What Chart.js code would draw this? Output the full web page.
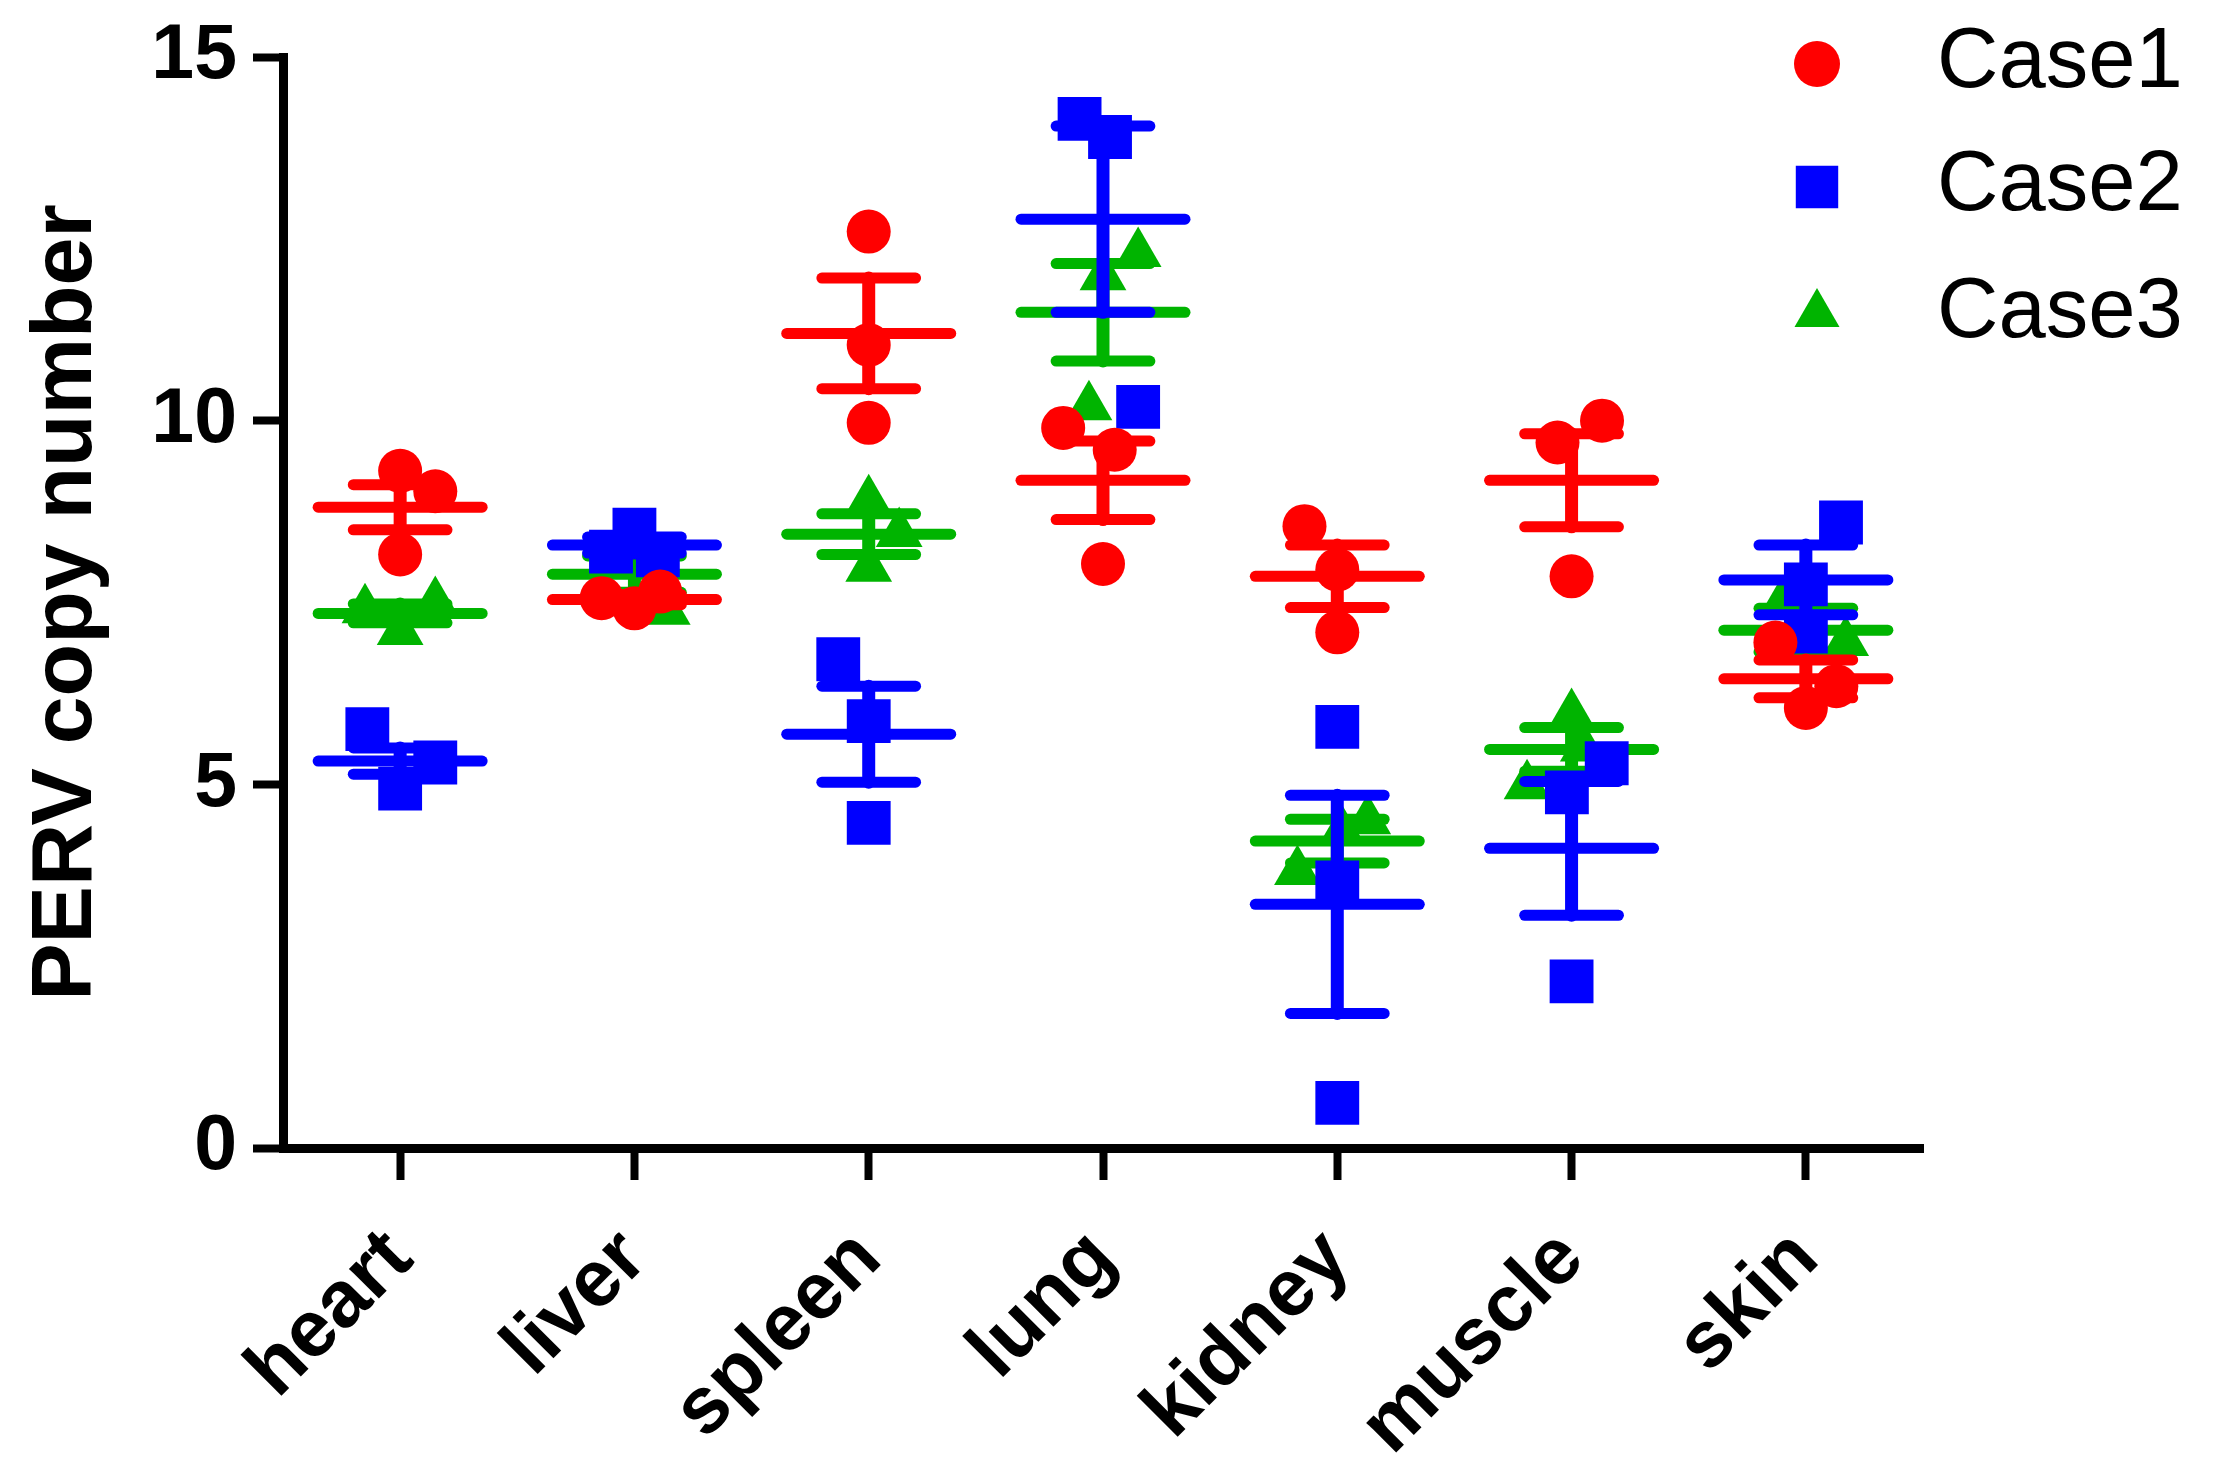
<!DOCTYPE html>
<html>
<head>
<meta charset="utf-8">
<title>PERV copy number</title>
<script src="https://cdn.jsdelivr.net/npm/chart.js@4.4.1/dist/chart.umd.min.js"></script>
<style>
  html, body { margin: 0; padding: 0; background: #fff; }
  #wrap { width: 2217px; height: 1479px; }
</style>
</head>
<body>
<div id="wrap"><canvas id="pervChart"></canvas></div>
<script>
const organs = ['heart', 'liver', 'spleen', 'lung', 'kidney', 'muscle', 'skin'];
const yTicks = [0, 5, 10, 15];

// readings per organ (3 per organ), plus the sideways spread of each dot (fraction of a column)
const case1Values = [[9.31, 9.03, 8.16], [7.56, 7.42, 7.65], [12.6, 11.04, 9.97], [9.9, 9.6, 8.03],
                     [8.55, 7.95, 7.09], [10.0, 9.7, 7.86], [6.95, 6.35, 6.05]];
const case1Spread = [[0, 0.15, 0], [-0.14, 0, 0.11], [0, 0, 0], [-0.17, 0.05, 0],
                     [-0.14, 0, 0], [0.13, -0.06, 0], [-0.13, 0.13, 0]];
const case1Mean = [8.81, 7.54, 11.2, 9.18, 7.86, 9.18, 6.45];
const case1Sem = [0.31, 0.07, 0.76, 0.54, 0.43, 0.64, 0.26];

const case2Values = [[5.76, 5.3, 4.94], [8.5, 8.2, 8.15], [6.72, 5.87, 4.47], [14.15, 13.9, 10.19],
                     [5.79, 3.65, 0.62], [5.29, 4.89, 2.29], [8.6, 7.75, 7.1]];
const case2Spread = [[-0.14, 0.15, 0], [0, -0.1, 0.1], [-0.13, 0, 0], [-0.1, 0.03, 0.15],
                     [0, 0, 0], [0.15, -0.02, 0], [0.15, 0, 0]];
const case2Mean = [5.32, 8.29, 5.69, 12.77, 3.35, 4.12, 7.81];
const case2Sem = [0.18, 0.11, 0.66, 1.28, 1.5, 0.92, 0.48];

const case3Values = [[7.5, 7.4, 7.1], [8.2, 8.1, 7.38], [8.9, 8.45, 7.97], [12.3, 11.98, 10.19],
                     [4.5, 4.35, 3.8], [5.96, 5.5, 4.98], [7.5, 6.95, 6.9]];
const case3Spread = [[0.15, -0.15, 0], [-0.05, 0.05, 0.14], [0, 0.13, 0], [0.15, 0, -0.06],
                     [0.13, 0.02, -0.17], [0, 0.05, -0.19], [-0.1, 0.17, 0]];
const case3Mean = [7.35, 7.89, 8.44, 11.49, 4.22, 5.48, 7.12];
const case3Sem = [0.13, 0.25, 0.28, 0.67, 0.3, 0.3, 0.3];

const red = '#ff0000';
const blue = '#0000ff';
const green = '#00b400';

function toPoints(values, spread) {
    return values.flatMap((group, i) => group.map((v, k) => ({ x: i + spread[i][k], y: v })));
}

function makeDataset(label, values, spread, mean, sem, color, style, radius) {
    return {
        label: label,
        data: toPoints(values, spread),
        means: mean,
        sems: sem,
        backgroundColor: color,
        borderColor: color,
        pointStyle: style,
        pointRadius: radius,
        pointHoverRadius: radius,
        pointBorderWidth: 0,
        showLine: false
    };
}

// mean line + SEM whiskers, drawn right after each dataset's dots
const errorBars = {
    id: 'errorBars',
    afterDatasetDraw(chart, args) {
        const ds = chart.data.datasets[args.index];
        const xs = chart.scales.x;
        const ys = chart.scales.y;
        const ctx = chart.ctx;
        ctx.save();
        ctx.strokeStyle = ds.borderColor;
        ctx.lineCap = 'round';
        ds.means.forEach((m, i) => {
            const s = ds.sems[i];
            const seg = (x0, x1, y) => {
                ctx.beginPath();
                ctx.moveTo(xs.getPixelForValue(x0), ys.getPixelForValue(y));
                ctx.lineTo(xs.getPixelForValue(x1), ys.getPixelForValue(y));
                ctx.stroke();
            };
            ctx.lineWidth = 13;
            ctx.beginPath();
            ctx.moveTo(xs.getPixelForValue(i), ys.getPixelForValue(m - s));
            ctx.lineTo(xs.getPixelForValue(i), ys.getPixelForValue(m + s));
            ctx.stroke();
            ctx.lineWidth = 11;
            seg(i - 0.35, i + 0.35, m);
            seg(i - 0.2, i + 0.2, m + s);
            seg(i - 0.2, i + 0.2, m - s);
        });
        ctx.restore();
    }
};

// legend sits over the top-right corner, outside the normal layout
const cornerLegend = {
    id: 'cornerLegend',
    afterDraw(chart) {
        const ctx = chart.ctx;
        const rows = [64, 187, 314];
        ctx.save();
        ctx.font = '85px "Liberation Sans", Arial, sans-serif';
        ctx.textBaseline = 'middle';
        ctx.textAlign = 'left';
        chart.data.datasets.forEach((ds, k) => {
            ctx.fillStyle = ds.backgroundColor;
            Chart.helpers.drawPoint(ctx, {
                pointStyle: ds.pointStyle,
                radius: ds.pointStyle === 'rect' ? 30 : (ds.pointStyle === 'triangle' ? 26 : 23),
                rotation: 0,
                borderWidth: 0
            }, 1817, rows[k]);
            ctx.fillStyle = '#000';
            ctx.fillText(ds.label, 1937, rows[k]);
        });
        ctx.restore();
    }
};

document.addEventListener('DOMContentLoaded', () => {
    const ctx = document.getElementById('pervChart').getContext('2d');

    new Chart(ctx, {
        type: 'scatter',
        data: {
            datasets: [
                makeDataset('Case1', case1Values, case1Spread, case1Mean, case1Sem, red, 'circle', 22),
                makeDataset('Case2', case2Values, case2Spread, case2Mean, case2Sem, blue, 'rect', 31),
                makeDataset('Case3', case3Values, case3Spread, case3Mean, case3Sem, green, 'triangle', 27)
            ]
        },
        options: {
            responsive: true,
            maintainAspectRatio: false,
            animation: false,
            layout: { padding: { top: 57, right: 294, bottom: 0, left: 0 } },
            scales: {
                x: {
                    type: 'linear',
                    min: -0.5,
                    max: 6.5,
                    afterBuildTicks: (scale) => {
                        scale.ticks = organs.map((_, i) => ({ value: i }));
                    },
                    afterFit: (scale) => { scale.height = 331; },
                    grid: { drawOnChartArea: false, drawTicks: true, tickLength: 32, tickWidth: 8, tickColor: '#000' },
                    border: { display: true, color: '#000', width: 9 },
                    ticks: {
                        autoSkip: false,
                        minRotation: 45,
                        maxRotation: 45,
                        padding: 32,
                        color: '#000',
                        font: { family: '"Liberation Sans", Arial, sans-serif', size: 80, weight: 'bold' },
                        callback: (value) => organs[value]
                    }
                },
                y: {
                    min: 0,
                    max: 15,
                    afterBuildTicks: (scale) => {
                        scale.ticks = yTicks.map(v => ({ value: v }));
                    },
                    afterFit: (scale) => { scale.width = 283; },
                    grid: { drawOnChartArea: false, drawTicks: true, tickLength: 30, tickWidth: 8, tickColor: '#000' },
                    border: { display: true, color: '#000', width: 9 },
                    ticks: {
                        padding: 16,
                        color: '#000',
                        font: { family: '"Liberation Sans", Arial, sans-serif', size: 77, weight: 'bold', lineHeight: 1 }
                    },
                    title: {
                        display: true,
                        text: 'PERV copy number',
                        color: '#000',
                        padding: { top: 16, bottom: 0 },
                        font: { family: '"Liberation Sans", Arial, sans-serif', size: 86, weight: 'bold' }
                    }
                }
            },
            plugins: {
                legend: { display: false },
                tooltip: { enabled: false }
            }
        },
        plugins: [errorBars, cornerLegend]
    });
});
</script>
</body>
</html>
